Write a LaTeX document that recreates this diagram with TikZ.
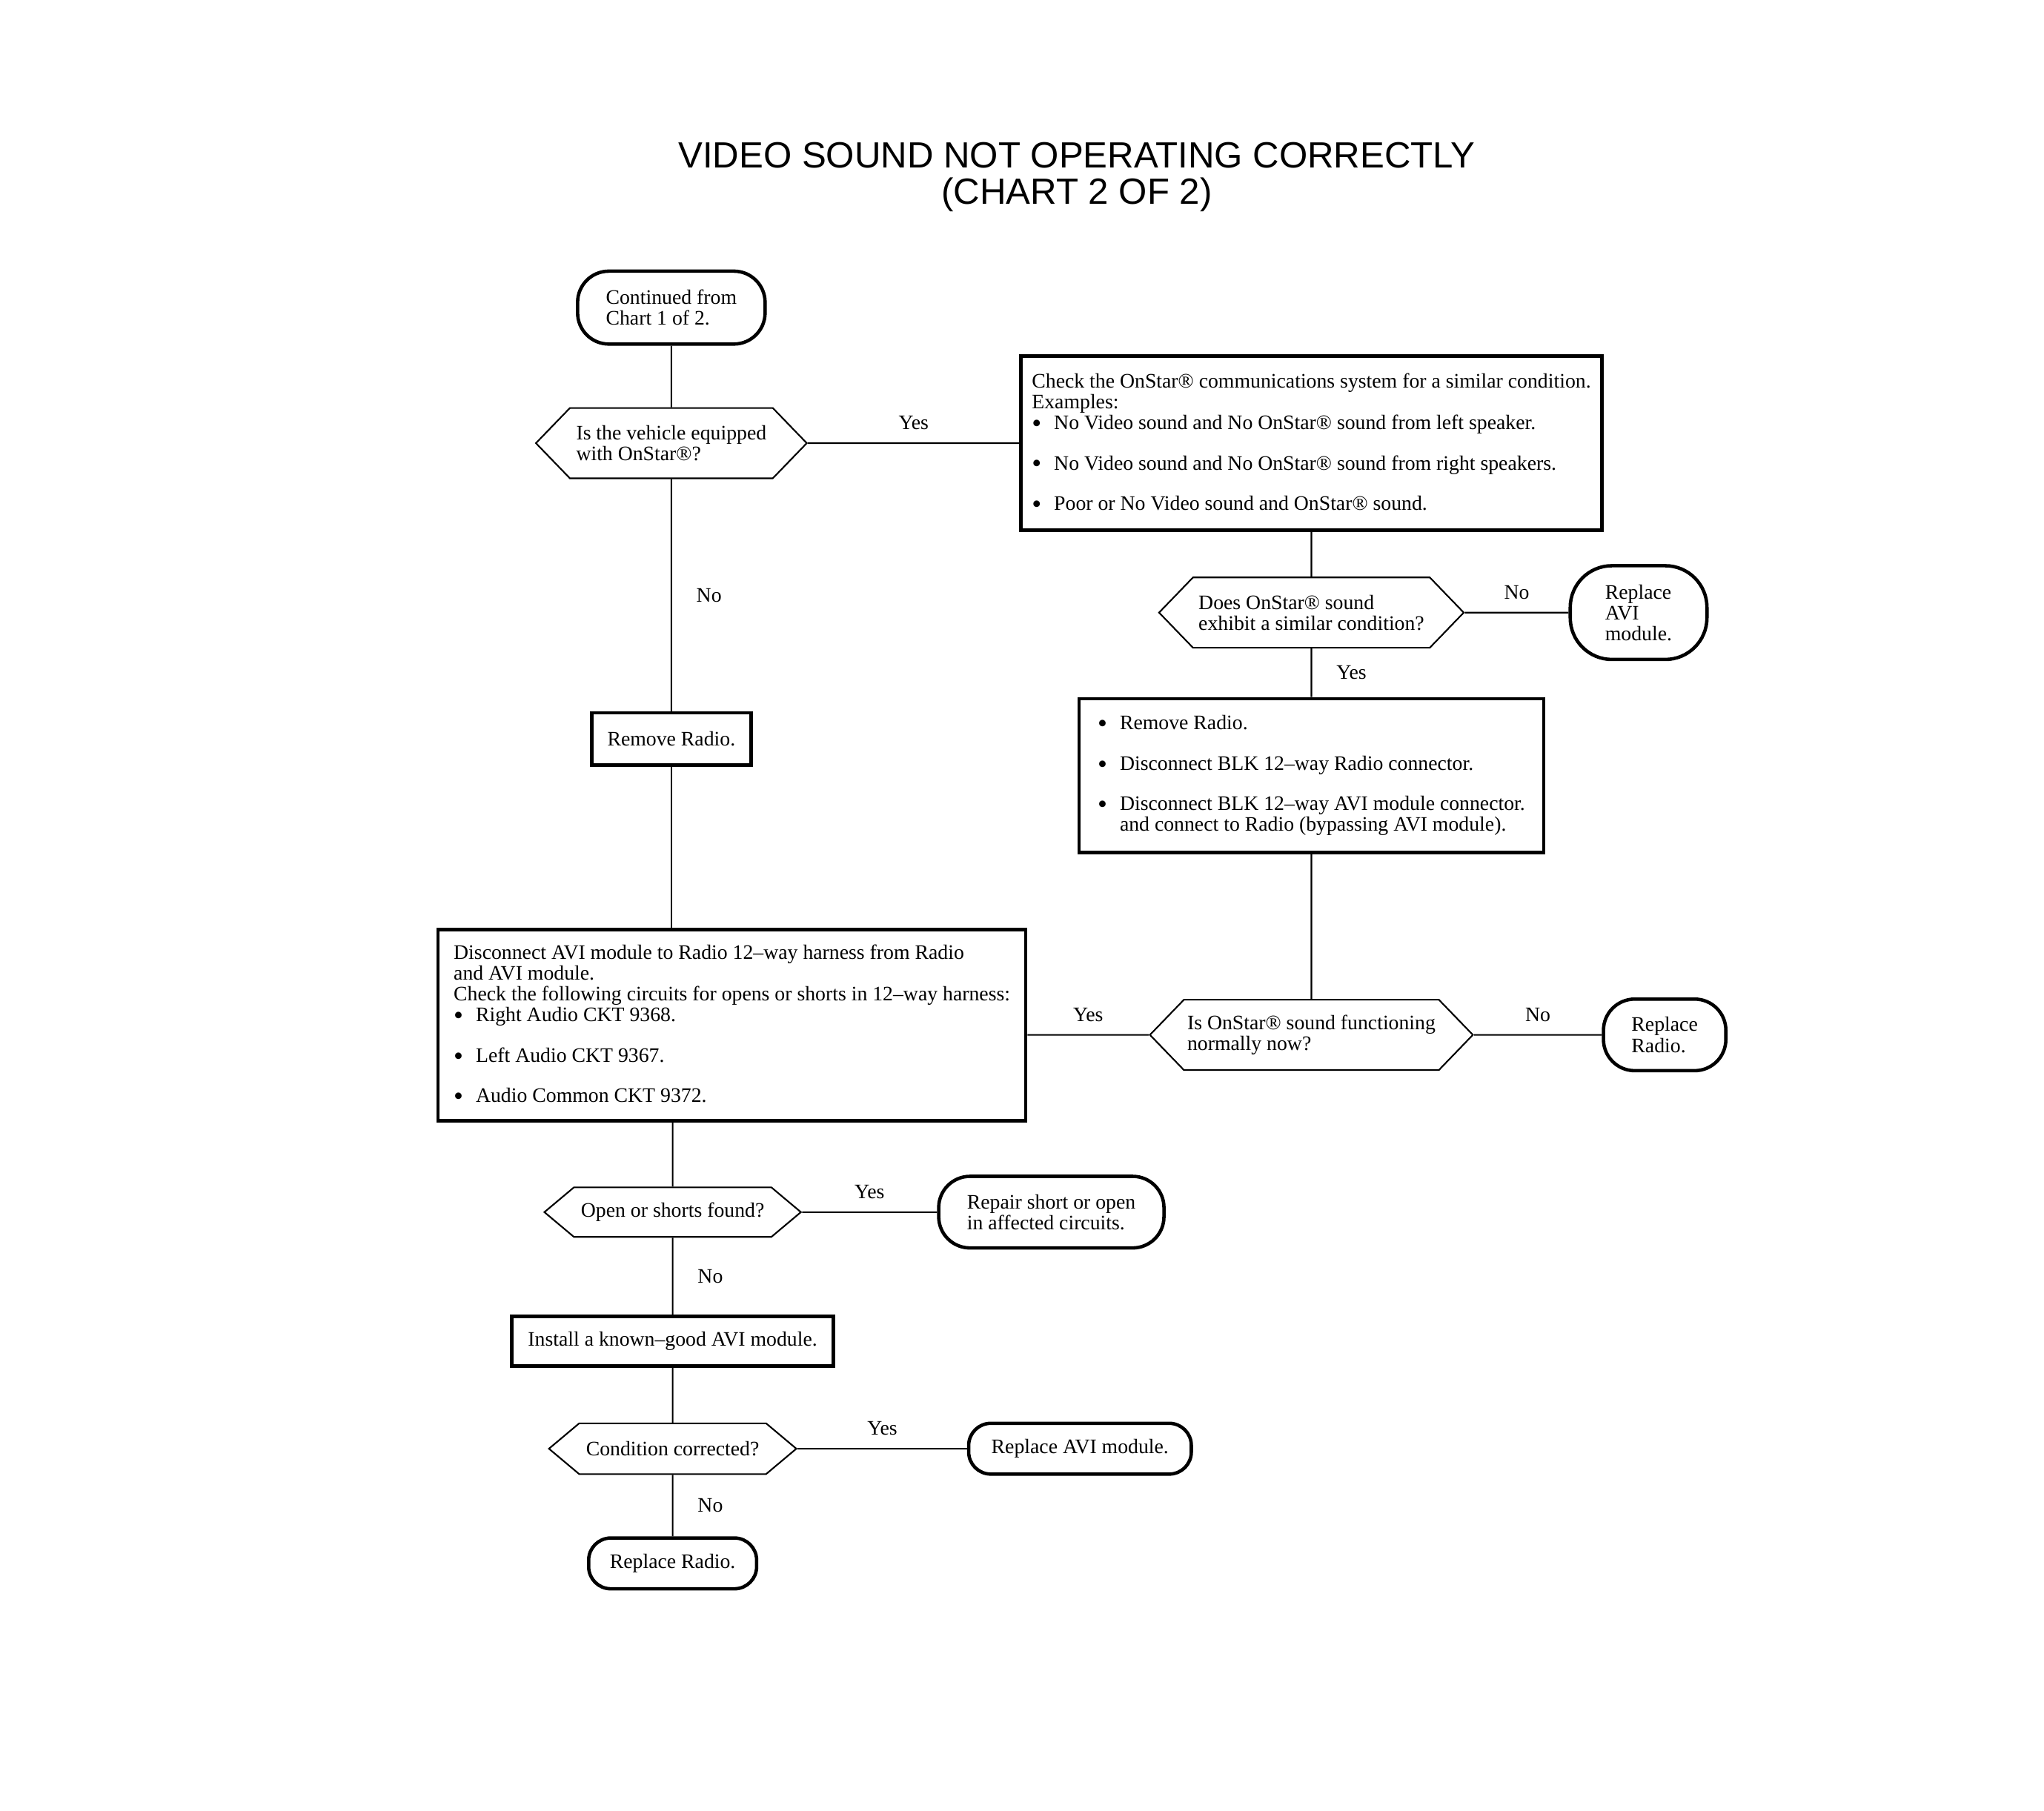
\documentclass[tikz,border=0pt]{standalone}
\usepackage{fontspec}
\setmainfont{Liberation Serif}
\newfontfamily\titlefont{Liberation Sans}
\usetikzlibrary{shapes.symbols, positioning}

\newcommand{\bul}{\makebox[8.5pt][l]{\raisebox{-1.1pt}{\fontsize{10.5}{8}\selectfont\textbullet}}}

\begin{document}
\begin{tikzpicture}[
    x=0.01759cm, y=-0.01759cm,
    every node/.style={font=\fontsize{7.9}{8}\selectfont},
    box/.style={draw, line width=1.3pt, inner xsep=6pt, align=left},
    term/.style={draw, line width=1.3pt, rounded corners=#1, align=left, inner sep=0pt},
    term/.default=8.5pt,
    dec/.style={signal, signal to=east and west, draw, line width=0.6pt,
        signal pointer angle=92, align=left, inner sep=0pt},
    line/.style={line width=0.6pt},
]
    \useasboundingbox (0,0) rectangle (1568,1389);

    \node[font=\titlefont\fontsize{14}{14}\selectfont, align=center] (title) at (826,136)
        {VIDEO SOUND NOT OPERATING CORRECTLY\\(CHART 2 OF 2)};

    % left column
    \node[term=12pt, minimum width=72pt, minimum height=28pt] (start) at (515,236)
        {Continued from\\Chart 1 of 2.};
    \node[dec, minimum width=104pt, minimum height=27pt] (q1) at (515,340)
        {Is the vehicle equipped\\with OnStar®?};
    \node[box, minimum width=60pt, minimum height=20pt] (rem1) at (515,567) {Remove Radio.};
    \node[box, minimum width=225.5pt, minimum height=73.5pt] (disc) at (561.5,786.5)
        {Disconnect AVI module to Radio 12--way harness from Radio\\
         and AVI module.\\
         Check the following circuits for opens or shorts in 12--way harness:\\
         \bul Right Audio CKT 9368.\\[7.5pt]
         \bul Left Audio CKT 9367.\\[7.5pt]
         \bul Audio Common CKT 9372.};
    \node[dec, signal pointer angle=80, minimum width=98.5pt, minimum height=19pt] (q4) at (516,930)
        {Open or shorts found?};
    \node[term=12pt, minimum width=86.5pt, minimum height=27.5pt] (fix) at (806.5,930)
        {Repair short or open\\in affected circuits.};
    \node[box, minimum width=123.5pt, minimum height=19pt] (inst) at (516,1029)
        {Install a known--good AVI module.};
    \node[dec, signal pointer angle=80, minimum width=95pt, minimum height=19.5pt] (q5) at (516,1111.5)
        {Condition corrected?};
    \node[term, minimum width=85.5pt, minimum height=19.5pt] (avi2) at (828.5,1111.5)
        {Replace AVI module.};
    \node[term, minimum width=64.5pt, minimum height=19.5pt] (rad2) at (516,1199.5)
        {Replace Radio.};

    % right column
    \node[box, inner xsep=3.5pt, minimum width=223pt, minimum height=67pt] (chk) at (1006,340)
        {Check the OnStar® communications system for a similar condition.\\
         Examples:\\
         \bul No Video sound and No OnStar® sound from left speaker.\\[7.5pt]
         \bul No Video sound and No OnStar® sound from right speakers.\\[7.5pt]
         \bul Poor or No Video sound and OnStar® sound.};
    \node[dec, minimum width=117pt, minimum height=27pt] (q2) at (1006,470)
        {Does OnStar® sound\\exhibit a similar condition?};
    \node[term=16pt, minimum width=52.5pt, minimum height=36pt] (avi1) at (1257,470)
        {Replace\\AVI\\module.};
    \node[box, minimum width=178.5pt, minimum height=59pt] (rem2) at (1006,595)
        {\bul Remove Radio.\\[7.5pt]
         \bul Disconnect BLK 12--way Radio connector.\\[7.5pt]
         \bul Disconnect BLK 12--way AVI module connector.\\
         \hspace*{8.5pt}and connect to Radio (bypassing AVI module).};
    \node[dec, minimum width=124pt, minimum height=27pt] (q3) at (1006,794)
        {Is OnStar® sound functioning\\normally now?};
    \node[term=12pt, minimum width=47pt, minimum height=27.5pt] (rad1) at (1277,794)
        {Replace\\Radio.};

    % connectors
    \draw[line] (start) -- (q1);
    \draw[line] (q1) -- node[above=1.5pt]{Yes} (chk);
    \draw[line] (q1) -- node[right=6pt]{No} (rem1);
    \draw[line] (rem1) -- (rem1 |- disc.north);
    \draw[line] (chk) -- (q2);
    \draw[line] (q2) -- node[above=1.5pt]{No} (avi1);
    \draw[line] (q2) -- node[right=6pt]{Yes} (rem2);
    \draw[line] (rem2) -- (q3);
    \draw[line] (q3) -- node[above=1.5pt]{No} (rad1);
    \draw[line] (q3) -- node[above=1.5pt]{Yes} (q3 -| disc.east);
    \draw[line] (disc.south -| q4) -- (q4);
    \draw[line] (q4) -- node[above=1.5pt]{Yes} (fix);
    \draw[line] (q4) -- node[right=6pt]{No} (inst);
    \draw[line] (inst) -- (q5);
    \draw[line] (q5) -- node[above=1.5pt]{Yes} (avi2);
    \draw[line] (q5) -- node[right=6pt]{No} (rad2);
\end{tikzpicture}
\end{document}
